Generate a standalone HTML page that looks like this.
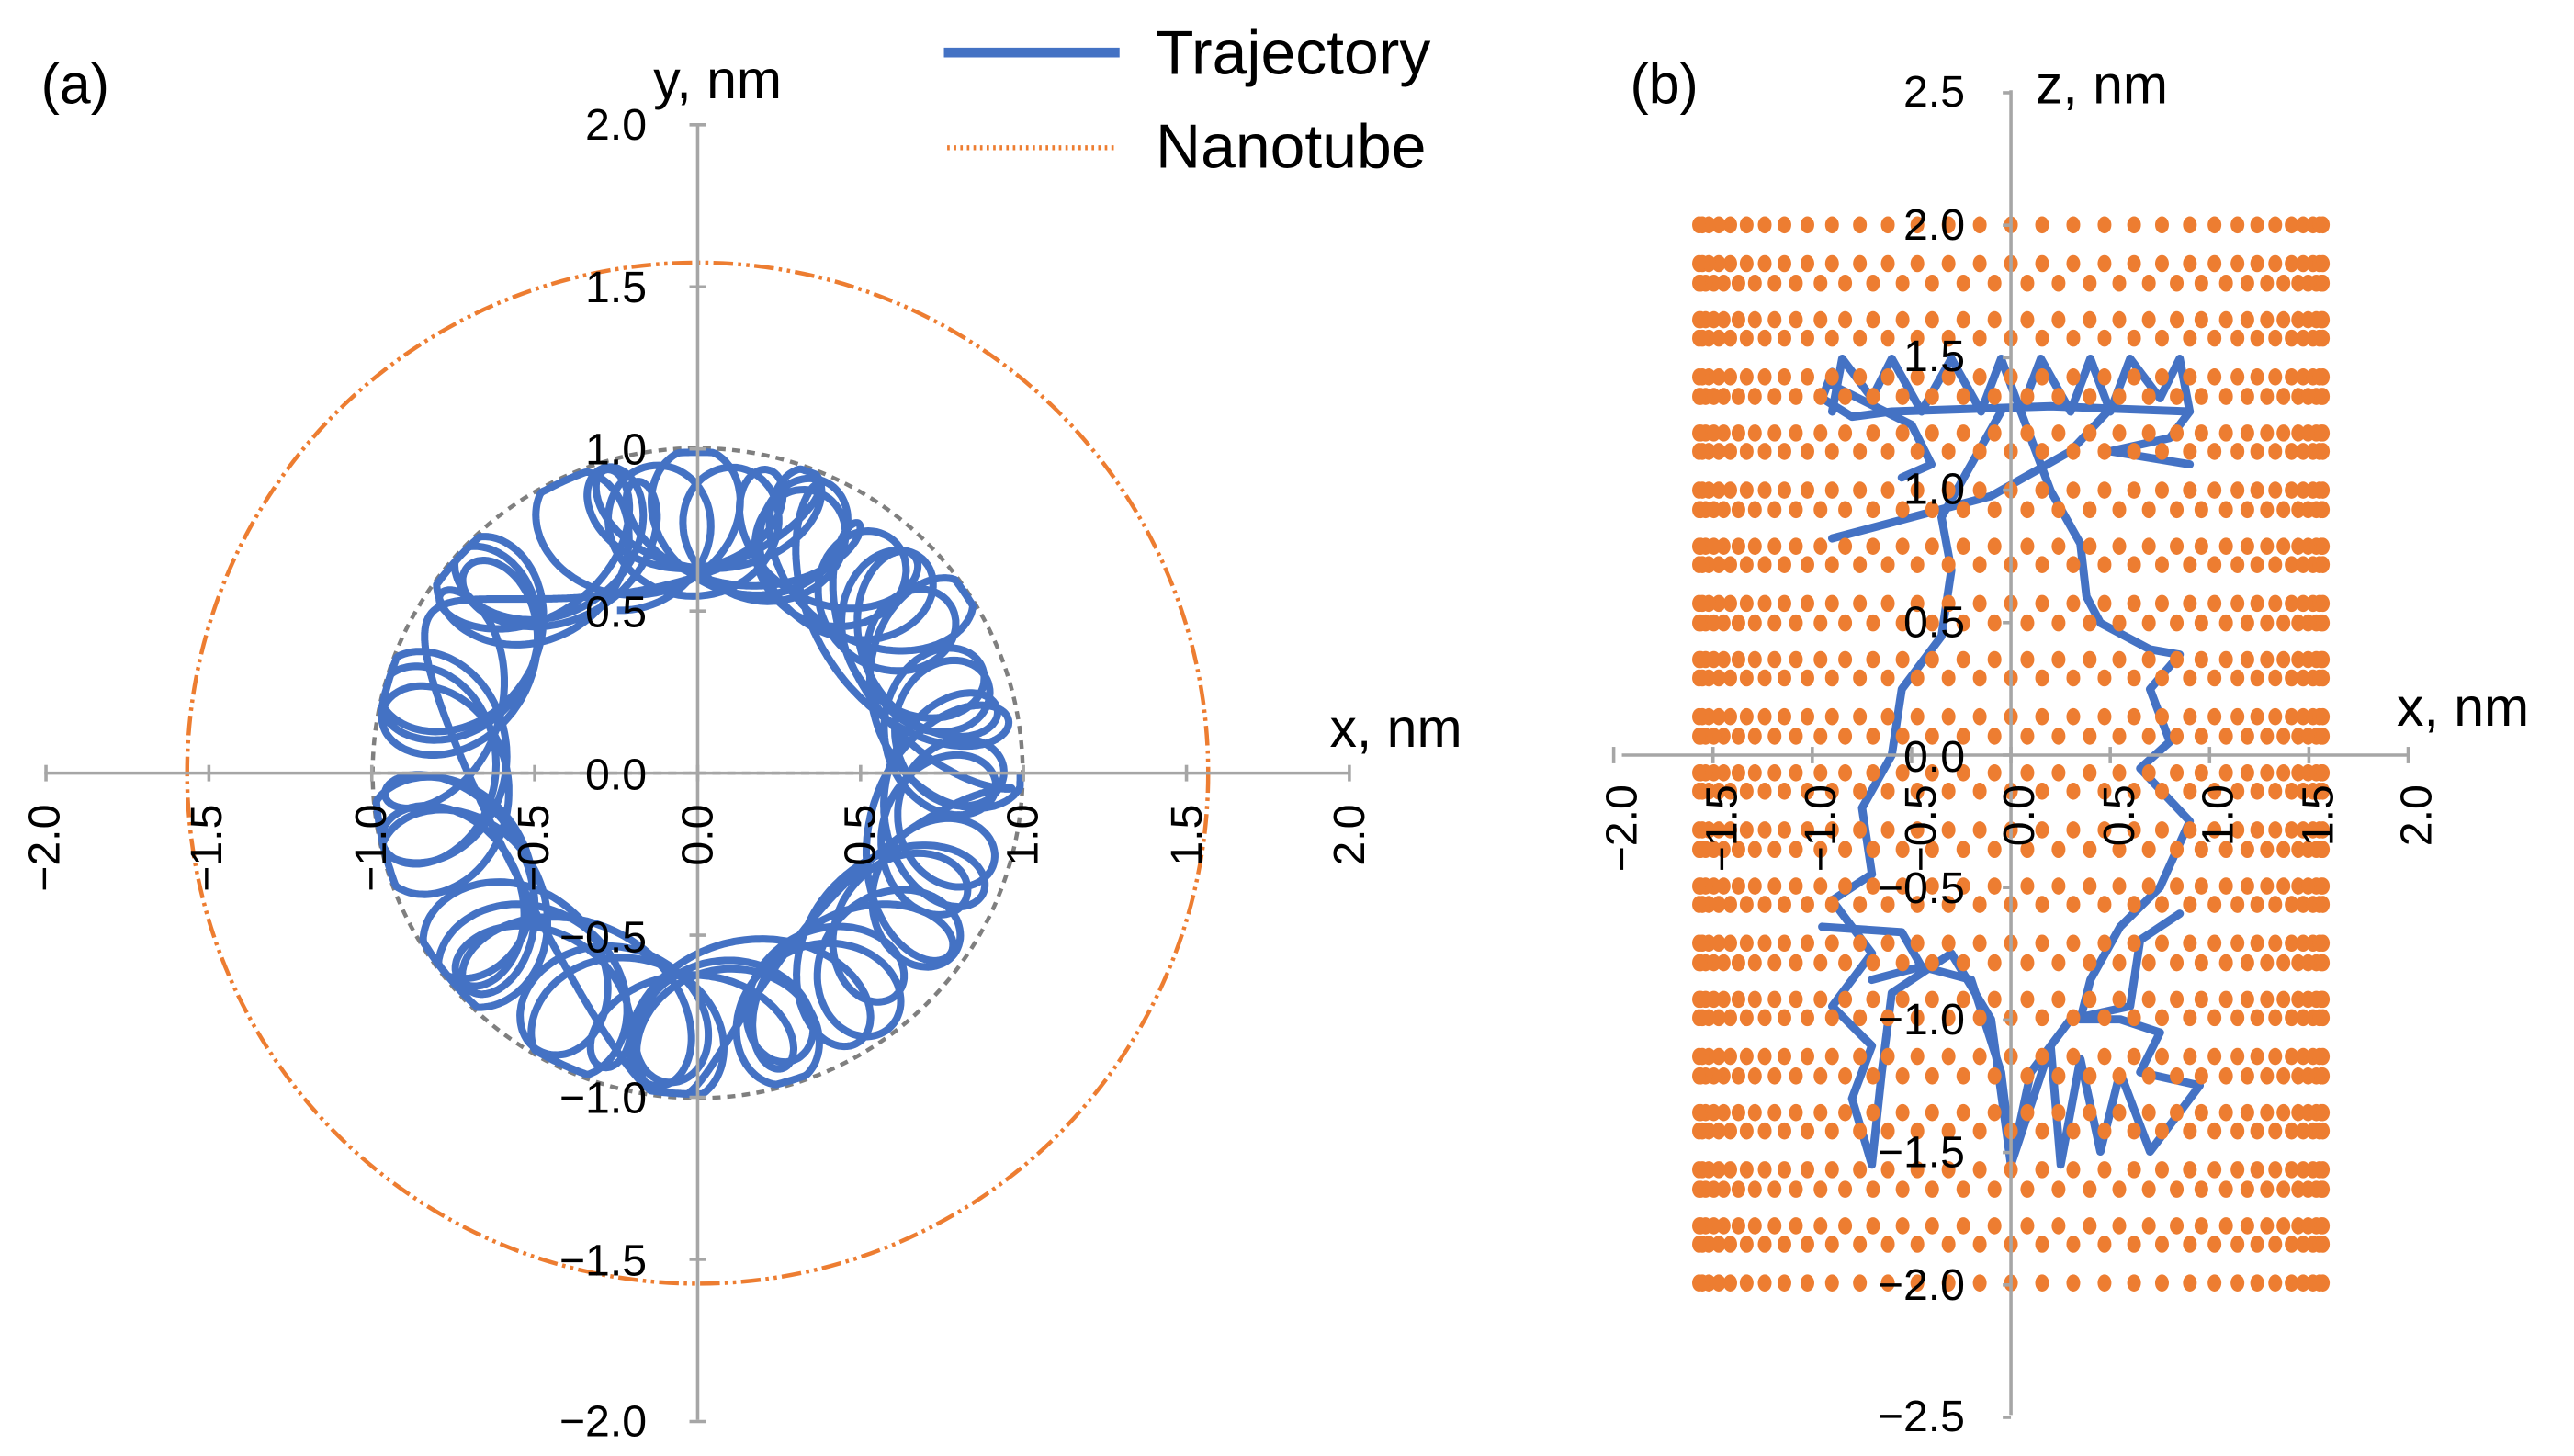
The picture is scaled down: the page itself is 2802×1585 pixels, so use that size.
<!DOCTYPE html>
<html><head><meta charset="utf-8"><style>
html,body{margin:0;padding:0;background:#fff;}
svg{display:block;}
text{font-family:"Liberation Sans",sans-serif;fill:#000;}
</style></head><body>
<svg id="s" width="2802" height="1585" viewBox="0 0 1568 887" preserveAspectRatio="none" xmlns="http://www.w3.org/2000/svg">
<rect width="1568" height="887" fill="#fff"/>
<circle cx="425" cy="471" r="311" fill="none" stroke="#ED7D31" stroke-width="2.5" stroke-dasharray="12 3 2 3 2 3"/>
<circle cx="425" cy="471" r="198" fill="none" stroke="#7f7f7f" stroke-width="2.5" stroke-dasharray="5 4"/>
<line x1="227" y1="471" x2="623" y2="471" stroke="#7f7f7f" stroke-width="2" stroke-dasharray="5 4"/>
<g id="trajA"></g>
<g stroke="#a6a6a6" stroke-width="2">
<line x1="27" y1="471" x2="822" y2="471"/>
<line x1="425" y1="75" x2="425" y2="865"/>
</g>
<g id="ticksA" stroke="#a6a6a6" stroke-width="2"></g>
<g font-size="27" text-anchor="end">
<text x="394" y="85">2.0</text><text x="394" y="184">1.5</text><text x="394" y="283">1.0</text><text x="394" y="382">0.5</text><text x="394" y="481">0.0</text><text x="394" y="580">−0.5</text><text x="394" y="678">−1.0</text><text x="394" y="777">−1.5</text><text x="394" y="875">−2.0</text>
</g>
<g font-size="27" text-anchor="end">
<text transform="translate(36,490) rotate(-90)">−2.0</text>
<text transform="translate(135,490) rotate(-90)">−1.5</text>
<text transform="translate(235,490) rotate(-90)">−1.0</text>
<text transform="translate(334,490) rotate(-90)">−0.5</text>
<text transform="translate(434,490) rotate(-90)">0.0</text>
<text transform="translate(533,490) rotate(-90)">0.5</text>
<text transform="translate(632,490) rotate(-90)">1.0</text>
<text transform="translate(732,490) rotate(-90)">1.5</text>
<text transform="translate(831,490) rotate(-90)">2.0</text>
</g>
<text x="25" y="63" font-size="34">(a)</text>
<text x="398" y="60" font-size="33">y, nm</text>
<text x="810" y="455" font-size="33">x, nm</text>
<line x1="575" y1="32" x2="682" y2="32" stroke="#4472C4" stroke-width="6"/>
<line x1="577" y1="90" x2="680" y2="90" stroke="#ED7D31" stroke-width="3" stroke-dasharray="1.5 2.5"/>
<text x="704" y="45" font-size="38">Trajectory</text>
<text x="704" y="102" font-size="38">Nanotube</text>
<g id="trajB"></g>
<g id="dots" fill="#ED7D31"></g>
<g stroke="#a6a6a6" stroke-width="2">
<line x1="988" y1="460" x2="1467" y2="460"/>
<line x1="1225" y1="55" x2="1225" y2="862"/>
</g>
<g id="ticksB" stroke="#a6a6a6" stroke-width="2"></g>
<g font-size="27" text-anchor="end">
<text x="1197" y="65">2.5</text><text x="1197" y="146">2.0</text><text x="1197" y="226">1.5</text><text x="1197" y="307">1.0</text><text x="1197" y="388">0.5</text><text x="1197" y="470">0.0</text><text x="1197" y="550">−0.5</text><text x="1197" y="630">−1.0</text><text x="1197" y="711">−1.5</text><text x="1197" y="792">−2.0</text><text x="1197" y="872">−2.5</text>
</g>
<g font-size="27" text-anchor="end">
<text transform="translate(997,478) rotate(-90)">−2.0</text>
<text transform="translate(1058,478) rotate(-90)">−1.5</text>
<text transform="translate(1118,478) rotate(-90)">−1.0</text>
<text transform="translate(1179,478) rotate(-90)">−0.5</text>
<text transform="translate(1239,478) rotate(-90)">0.0</text>
<text transform="translate(1300,478) rotate(-90)">0.5</text>
<text transform="translate(1360,478) rotate(-90)">1.0</text>
<text transform="translate(1421,478) rotate(-90)">1.5</text>
<text transform="translate(1481,478) rotate(-90)">2.0</text>
</g>
<text x="993" y="63" font-size="34">(b)</text>
<text x="1240" y="63" font-size="33">z, nm</text>
<text x="1460" y="442" font-size="33">x, nm</text>
</svg>
<script>
var NS="http://www.w3.org/2000/svg";
function el(p,t,a){var e=document.createElementNS(NS,t);for(var k in a)e.setAttribute(k,a[k]);p.appendChild(e);return e;}
var tA=document.getElementById("ticksA");
for(var i=-4;i<=4;i++){var x=425+99.25*i;el(tA,"line",{x1:x,y1:466,x2:x,y2:476});var y=471-98.75*i;el(tA,"line",{x1:420,y1:y,x2:430,y2:y});}
var tB=document.getElementById("ticksB");
for(var i=-4;i<=4;i++){var x=1225+60.5*i;el(tB,"line",{x1:x,y1:455,x2:x,y2:465});}
for(var i=-5;i<=5;i++){var y=460-80.7*i;el(tB,"line",{x1:1220,y1:y,x2:1225,y2:y});}
var pts=[];var N=8000;
for(var j=0;j<N;j++){var t=j/N*2*Math.PI*5.3;
 var k=-10+1.2*Math.sin(t*0.29);
 var R1=0.78+0.03*Math.sin(t*0.9),R2=0.19+0.03*Math.cos(t*1.3);
 var ph=k*t+1.2*Math.sin(t*0.23);
 var X=R1*Math.cos(t)+R2*Math.cos(ph);
 var Y=R1*Math.sin(t)+R2*Math.sin(ph);
 var r=Math.sqrt(X*X+Y*Y);if(r>0.99){X*=0.99/r;Y*=0.99/r;}
 pts.push((425+198.5*X).toFixed(1)+","+(471-197.5*Y).toFixed(1));}
el(document.getElementById("trajA"),"polyline",{points:pts.join(" "),fill:"none",stroke:"#4472C4","stroke-width":4.5,"stroke-linejoin":"round"});
var paths=[
[[-0.9,1.3],[-0.85,1.5],[-0.7,1.35],[-0.6,1.5],[-0.45,1.3],[-0.3,1.5],[-0.15,1.3],[-0.05,1.5],[0.05,1.3],[0.15,1.5],[0.3,1.3],[0.4,1.5],[0.5,1.3],[0.6,1.5],[0.75,1.35],[0.85,1.5],[0.9,1.3],[0.8,1.2],[0.5,1.15],[0.9,1.1]],
[[-0.9,1.45],[-0.95,1.35],[-0.8,1.28],[-0.6,1.3],[0.2,1.32],[0.9,1.3]],
[[-0.9,1.4],[-0.5,1.25],[-0.4,1.1],[-0.55,1.05]],
[[-0.05,1.3],[-0.2,1.1],[-0.35,0.9],[-0.3,0.7],[-0.35,0.45],[-0.55,0.25],[-0.6,0.0],[-0.75,-0.2],[-0.7,-0.45],[-0.9,-0.55],[-0.7,-0.75],[-0.9,-0.95],[-0.7,-1.1],[-0.8,-1.3],[-0.7,-1.55],[-0.65,-1.2],[-0.6,-0.9],[-0.3,-0.75],[-0.1,-1.0],[0,-1.55]],
[[-0.9,0.82],[-0.5,0.9],[-0.1,0.98],[0.3,1.15],[0.55,1.35]],
[[-0.95,-0.65],[-0.55,-0.67],[-0.45,-0.8],[-0.7,-0.85]],
[[0.05,1.3],[0.2,1.0],[0.35,0.8],[0.38,0.6],[0.45,0.5],[0.7,0.4],[0.85,0.38],[0.7,0.25],[0.8,0.05],[0.65,-0.05],[0.9,-0.25],[0.75,-0.5],[0.55,-0.65],[0.4,-0.85],[0.35,-1.0],[0.55,-1.0],[0.75,-1.05],[0.65,-1.2],[0.95,-1.25],[0.7,-1.5],[0.55,-1.2],[0.45,-1.5],[0.35,-1.15],[0.25,-1.55],[0.2,-1.1],[0.0,-1.55],[0.1,-1.2],[0.3,-1.0],[0.6,-0.95],[0.65,-0.7],[0.85,-0.6]],
[[-0.45,-0.8],[-0.2,-0.85],[-0.05,-1.2],[0,-1.5]]
];
var gB=document.getElementById("trajB");
paths.forEach(function(p){el(gB,"polyline",{points:p.map(function(q){return (1225+121*q[0]).toFixed(1)+","+(460-161*q[1]).toFixed(1);}).join(" "),fill:"none",stroke:"#4472C4","stroke-width":5,"stroke-linejoin":"round","stroke-linecap":"round"});});
var gD=document.getElementById("dots");
var offs=[[0,0],[23.6,0],[35.5,1],[57.8,1]];
for(var p=0;p<10;p++){offs.forEach(function(o){var y=137+69*p+o[0];if(y>784)return;
 var xs={};for(var k=o[1];k<124;k+=2){var th=k*2*Math.PI/124;var x=(1225+190*Math.sin(th)).toFixed(0);if(xs[x])continue;xs[x]=1;el(gD,"ellipse",{cx:x,cy:y.toFixed(1),rx:4.2,ry:5.2});}
});}
</script>
</body></html>
